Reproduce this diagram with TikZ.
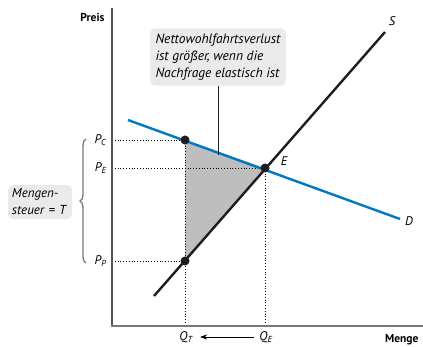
\documentclass[tikz,border=0pt]{standalone}
\usepackage{fontspec}
\setmainfont{PT Sans}
\usepackage{tikz}
\usetikzlibrary{decorations.pathreplacing,arrows.meta}
\definecolor{demandblue}{RGB}{0, 120, 196}
\definecolor{supplyblack}{RGB}{30, 30, 30}
\definecolor{axisgray}{RGB}{120, 120, 120}
\definecolor{lossgray}{RGB}{190, 190, 190}
\definecolor{notegray}{RGB}{234, 234, 234}

\begin{document}
\begin{tikzpicture}[x=1pt, y=-1pt,
    curvelabel/.style={font=\fontsize{12.5}{15}\selectfont\itshape},
    axislabel/.style={font=\fontsize{11.5}{14}\selectfont\bfseries},
    notebox/.style={fill=notegray, rounded corners=5pt, align=left,
      font=\fontsize{13.5}{17}\selectfont\itshape}]
    \useasboundingbox (0,0) rectangle (423,347);

    %% key points
    \coordinate (PCpt) at (185,140);
    \coordinate (Ept)  at (265,168);
    \coordinate (PPpt) at (185,261);
    \coordinate (S0) at (154,296);
    \coordinate (S1) at (385,32);
    \coordinate (D0) at (128,120);
    \coordinate (D1) at (400,219);

    %% deadweight loss triangle
    \fill[lossgray] (PCpt) -- (Ept) -- (PPpt) -- cycle;

    %% dotted guides
    \draw[dotted, thick] (112,140) -- (PCpt);
    \draw[dotted, thick] (112,168) -- (Ept);
    \draw[dotted, thick] (112,261) -- (PPpt);
    \draw[dotted, thick] (PCpt) -- (185,326);
    \draw[dotted, thick] (Ept) -- (265,326);

    %% axes
    \draw[axisgray!70!black, line width=1.2pt] (112,8) -- (112,326);
    \draw[axisgray, line width=2pt] (111.4,326) -- (423,326);
    \node[axislabel, anchor=east] (preis) at (108,17) {Preis};
    \node[axislabel, anchor=east] (menge) at (422,340) {Menge};

    %% demand and supply
    \draw[demandblue, line width=2.4pt] (D0) -- (D1);
    \draw[supplyblack, line width=2.4pt] (S0) -- (S1);
    \node[curvelabel] (slab) at (392,21) {S};
    \node[curvelabel] (dlab) at (409,221) {D};
    \node[curvelabel] (elab) at (284,161) {E};

    %% dots
    \fill[supplyblack] (PCpt) circle (4.5);
    \fill[supplyblack] (Ept) circle (4.5);
    \fill[supplyblack] (PPpt) circle (4.5);

    %% price labels
    \node[curvelabel, anchor=east] (pc) at (110,140) {P\textsubscript{C}};
    \node[curvelabel, anchor=east] (pe) at (110,168) {P\textsubscript{E}};
    \node[curvelabel, anchor=east] (pp) at (110,261) {P\textsubscript{P}};

    %% quantity labels
    \node[curvelabel] (qt) at (186,337) {Q\textsubscript{T}};
    \node[curvelabel] (qe) at (266,337) {Q\textsubscript{E}};
    \draw[-{Stealth[length=7pt]}, thick] (qe.west) ++(-2,0) -- ([xshift=4pt]qt.east);

    %% tax brace
    \draw[axisgray, line width=1.3pt, decorate, decoration={brace, amplitude=6pt}]
      (86,263) -- (86,139);
    \node[notebox, font=\fontsize{13}{17}\selectfont\itshape, inner sep=4pt,
          text width=56pt] (tax) at (40,202) {Mengen-\\steuer~=~T};

    %% deadweight loss note
    \node[notebox, inner sep=5.5pt] (note) at (218,57)
      {Nettowohlfahrtsverlust\\ist größer, wenn die\\Nachfrage elastisch ist};
    \coordinate (notetip) at (218,155);
    \draw[supplyblack, line width=0.8pt] (note.south) -- (notetip);
  \end{tikzpicture}
\end{document}
